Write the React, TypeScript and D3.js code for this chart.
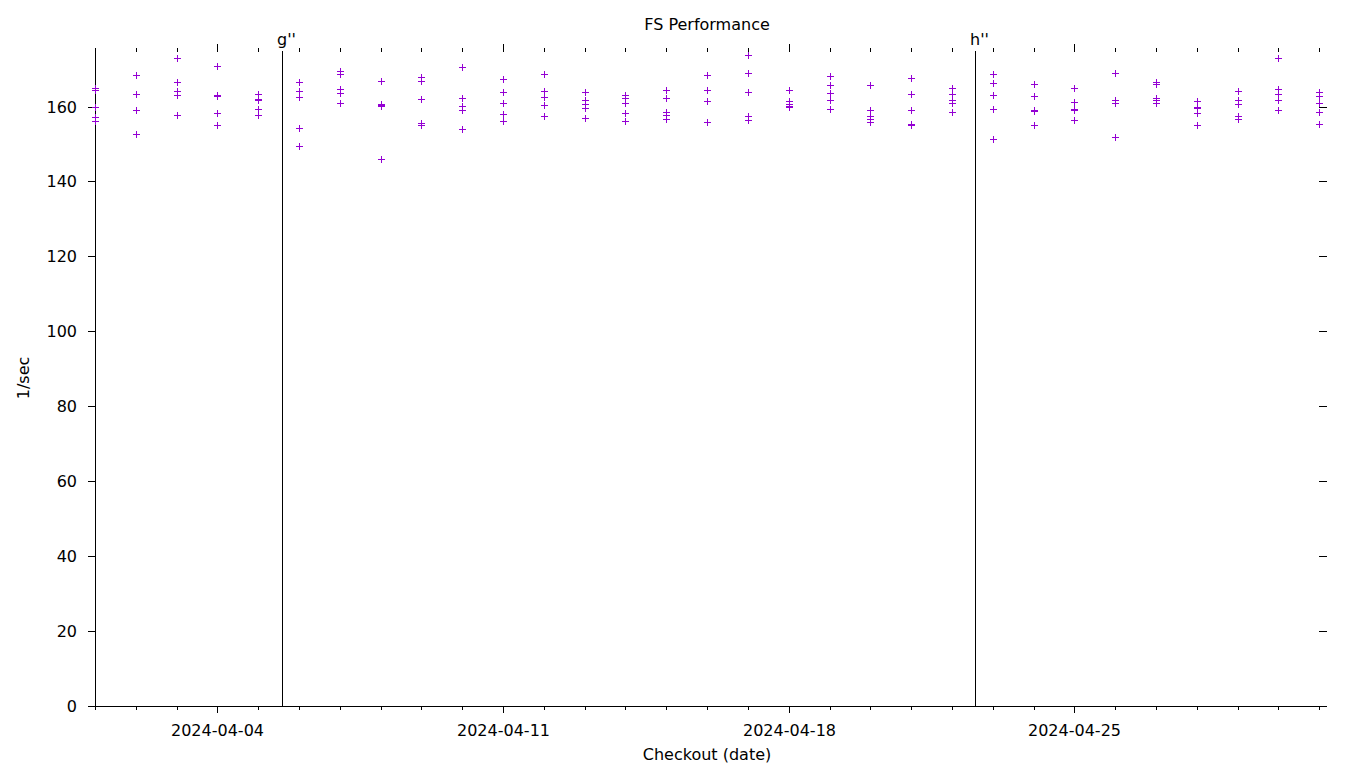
import React from "react";
import * as d3 from "d3";

const title = "FS Performance";
const xLabel = "Checkout (date)";
const yLabel = "1/sec";

const days: string[] = [
  "2024-04-01", "2024-04-02", "2024-04-03", "2024-04-04", "2024-04-05", "2024-04-06",
  "2024-04-07", "2024-04-08", "2024-04-09", "2024-04-10", "2024-04-11", "2024-04-12",
  "2024-04-13", "2024-04-14", "2024-04-15", "2024-04-16", "2024-04-17", "2024-04-18",
  "2024-04-19", "2024-04-20", "2024-04-21", "2024-04-22", "2024-04-23", "2024-04-24",
  "2024-04-25", "2024-04-26", "2024-04-27", "2024-04-28", "2024-04-29", "2024-04-30",
  "2024-05-01",
];

const values: number[][] = [
  [165.0, 164.5, 159.8, 157.2, 156.1],
  [168.5, 163.3, 159.1, 152.7],
  [173.0, 166.6, 164.1, 163.1, 157.7],
  [170.8, 163.1, 162.9, 158.3, 155.0],
  [163.5, 162.1, 161.8, 159.5, 157.7],
  [166.7, 164.3, 162.5, 154.2, 149.4],
  [169.6, 168.6, 164.6, 163.6, 161.0],
  [166.8, 160.8, 160.5, 160.3, 146.1],
  [167.8, 166.9, 162.0, 155.7, 155.2],
  [170.7, 162.2, 160.2, 159.1, 154.0],
  [167.4, 164.0, 161.0, 157.9, 156.1],
  [168.8, 164.3, 162.7, 160.4, 157.5],
  [163.8, 161.7, 160.7, 159.7, 157.0],
  [163.0, 162.3, 161.0, 158.2, 156.1],
  [164.5, 162.3, 158.7, 157.8, 156.8],
  [168.5, 164.4, 161.5, 156.0, 155.8],
  [173.8, 169.1, 164.0, 157.6, 156.4],
  [164.5, 161.5, 160.7, 160.2, 159.9],
  [168.3, 165.9, 163.7, 161.8, 159.4],
  [165.9, 159.1, 157.5, 156.7, 155.8],
  [167.7, 163.5, 159.2, 155.4, 155.2],
  [164.9, 163.5, 161.8, 161.0, 158.6],
  [168.8, 166.3, 163.1, 159.5, 151.4],
  [166.1, 162.8, 159.1, 158.9, 155.1],
  [164.9, 161.2, 159.4, 159.2, 156.5],
  [169.1, 161.9, 161.7, 161.1, 152.0],
  [166.7, 166.0, 162.4, 161.7, 161.0],
  [161.4, 159.9, 159.7, 158.3, 155.1],
  [164.3, 161.8, 160.6, 157.4, 156.7],
  [173.0, 164.7, 163.5, 161.8, 159.2],
  [163.8, 162.9, 161.1, 158.7, 155.4],
];

const markers = [
  { label: "g''", when: "2024-04-05T14:05:00" },
  { label: "h''", when: "2024-04-22T13:40:00" },
];

const yTicks = [0, 20, 40, 60, 80, 100, 120, 140, 160];
const majorXTicks = ["2024-04-04", "2024-04-11", "2024-04-18", "2024-04-25"];

const parseDay = d3.timeParse("%Y-%m-%d");
const parseTime = d3.timeParse("%Y-%m-%dT%H:%M:%S");
const fmt = d3.timeFormat("%Y-%m-%d");

const COLOR = "#9400d3";
const FONT = "DejaVu Sans, sans-serif";

export default function App() {
  const left = 95, right = 1326, top = 48, bottom = 706;
  const x = d3
    .scaleTime()
    .domain([parseTime("2024-04-01T00:00:00")!, parseTime("2024-05-01T04:00:00")!])
    .range([left + 0.5, right + 0.5]);
  const y = d3.scaleLinear().domain([0, 175.8]).range([bottom, top]);

  const px = (v: number) => Math.round(v - 0.5) + 0.5;

  const allDays = d3.timeDay.range(parseDay("2024-04-01")!, d3.timeDay.offset(parseDay("2024-05-01")!, 1));
  const majorSet = new Set(majorXTicks);

  const points: { x: number; y: number; key: string }[] = [];
  days.forEach((d, i) => {
    const dt = parseDay(d)!;
    values[i].forEach((v, j) => {
      points.push({ x: px(x(dt)), y: px(y(v)), key: `${i}-${j}` });
    });
  });

  return (
    <svg
      width={1360}
      height={768}
      style={{ position: "absolute", left: 0, top: 0, background: "#fff" }}
      fontFamily={FONT}
    >
      <rect x={0} y={0} width={1360} height={768} fill="#fff" />
      <text x={707} y={30} fontSize={16} textAnchor="middle" fill="#000">
        {title}
      </text>

      {/* x ticks */}
      {allDays.map((d) => {
        const key = fmt(d);
        const xx = px(x(d));
        const major = majorSet.has(key);
        return (
          <g key={key} shapeRendering="crispEdges" stroke="#000" strokeWidth={1}>
            <line x1={xx} x2={xx} y1={bottom} y2={bottom + (major ? 7 : 4)} />
            <line x1={xx} x2={xx} y1={major ? top - 4 : top} y2={top + 4} />
          </g>
        );
      })}
      {majorXTicks.map((k) => (
        <text key={k} x={px(x(parseDay(k)!))} y={736} fontSize={16} textAnchor="middle" fill="#000">
          {k}
        </text>
      ))}

      {/* y ticks */}
      {yTicks.map((t) => {
        const yy = px(y(t));
        return (
          <g key={t}>
            <line x1={left - 7} x2={left} y1={yy} y2={yy} stroke="#000" shapeRendering="crispEdges" />
            <line x1={right - 7} x2={right + 1} y1={yy} y2={yy} stroke="#000" shapeRendering="crispEdges" />
            <text x={77} y={yy + 5.5} fontSize={16} textAnchor="end" fill="#000">
              {t}
            </text>
          </g>
        );
      })}

      {/* border: left and bottom */}
      <line x1={left + 0.5} x2={left + 0.5} y1={top} y2={bottom + 0.5} stroke="#000" shapeRendering="crispEdges" />
      <line x1={left} x2={right + 1} y1={bottom + 0.5} y2={bottom + 0.5} stroke="#000" shapeRendering="crispEdges" />

      {/* markers */}
      {markers.map((m) => {
        const xx = px(x(parseTime(m.when)!));
        return (
          <g key={m.label}>
            <line x1={xx} x2={xx} y1={51} y2={bottom} stroke="#000" shapeRendering="crispEdges" />
            <text x={xx - 5.5} y={45} fontSize={16} fill="#000">
              {m.label}
            </text>
          </g>
        );
      })}

      {/* points */}
      <g stroke={COLOR} strokeWidth={1} shapeRendering="crispEdges">
        {points.map((p) => (
          <path key={p.key} d={`M${p.x - 3.5},${p.y}H${p.x + 3.5}M${p.x},${p.y - 3.5}V${p.y + 3.5}`} />
        ))}
      </g>

      <text x={707} y={760} fontSize={16} textAnchor="middle" fill="#000">
        {xLabel}
      </text>
      <text transform="translate(29,378) rotate(-90)" fontSize={16} textAnchor="middle" fill="#000">
        {yLabel}
      </text>
    </svg>
  );
}
